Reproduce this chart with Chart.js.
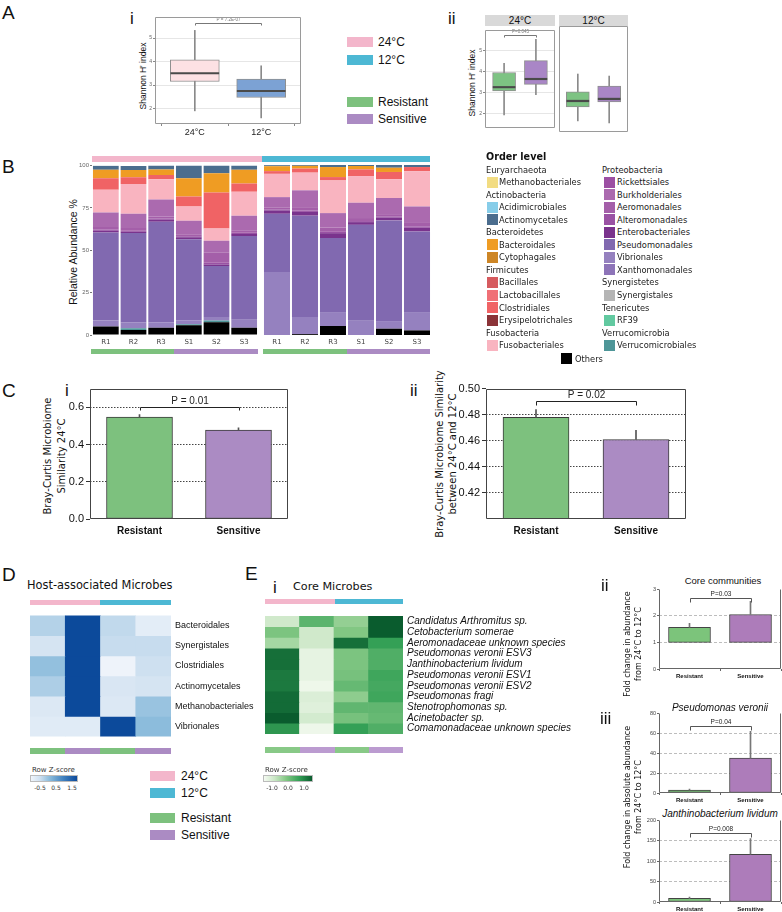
<!DOCTYPE html>
<html><head><meta charset="utf-8">
<script src="https://cdn.jsdelivr.net/npm/chart.js@4.4.1/dist/chart.umd.min.js"></script>
<style>
body{margin:0;background:#fff;}
#root{position:relative;width:782px;height:912px;overflow:hidden;font-family:"Liberation Sans",Arial,sans-serif;color:#111;background:#fff;}
.t{position:absolute;white-space:nowrap;line-height:1;transform:translateY(-50%);}
.c{position:absolute;white-space:nowrap;line-height:1;transform:translate(-50%,-50%);text-align:center;}
.r{position:absolute;white-space:nowrap;transform:translate(-50%,-50%) rotate(-90deg);text-align:center;}
.sw{position:absolute;}
canvas{position:absolute;}
</style></head><body><div id="root"></div>
<script>
// ---------------- DATA ----------------
// A(i) Shannon index by temperature (boxplot stats)
const tempLabels = ['24°C', '12°C'];
const shannonTempMin = [1.90, 1.60];
const shannonTempQ1  = [3.15, 2.47];
const shannonTempMed = [3.50, 2.75];
const shannonTempQ3  = [4.07, 3.25];
const shannonTempMax = [5.33, 3.82];
// A(ii) Shannon index by phenotype within temperature
const phenoLabels = ['Resistant', 'Sensitive'];
const shannon24Min = [1.91, 2.88];
const shannon24Q1  = [3.06, 3.37];
const shannon24Med = [3.24, 3.63];
const shannon24Q3  = [3.94, 4.51];
const shannon24Max = [4.38, 5.53];
const shannon12Min = [1.78, 1.69];
const shannon12Q1  = [2.40, 2.62];
const shannon12Med = [2.66, 2.75];
const shannon12Q3  = [3.06, 3.32];
const shannon12Max = [3.85, 3.76];
// B relative abundance (%) — 24°C R1 R2 R3 S1 S2 S3, then 12°C R1 R2 R3 S1 S2 S3
const sampleLabels = ['R1', 'R2', 'R3', 'S1', 'S2', 'S3'];
const others             = [5.0, 3.0, 4.3, 5.7, 7.6, 4.3, 0.0, 0.5, 5.3, 0.0, 3.7, 2.7];
const verrucomicrobiales = [0.0, 1.0, 0.0, 0.6, 1.0, 0.0, 0, 0, 0, 0, 0, 0];
const rf39               = [0, 0, 0, 0, 0, 0, 0, 0, 0, 0, 0, 0];
const synergistales      = [0, 0, 0, 0, 0, 0, 0, 0, 0, 0, 0, 0];
const xanthomonadales    = [0, 0, 0, 0, 0, 0, 0, 0, 0, 0, 0, 0];
const vibrionales        = [3.5, 3.5, 3.3, 2.4, 2.0, 4.7, 37.0, 10.1, 8.2, 8.4, 4.5, 10.8];
const pseudomonadales    = [52.0, 52.7, 59.2, 47.8, 30.2, 49.4, 34.3, 59.6, 43.5, 56.4, 59.2, 47.4];
const enterobacteriales  = [1.0, 0.8, 1.2, 1.2, 0.8, 1.2, 2.0, 2.2, 2.9, 1.6, 1.6, 2.2];
const alteromonadales    = [0.8, 0.6, 0.8, 0.6, 1.0, 0.8, 0.6, 0.8, 0.8, 0.6, 0.6, 0.8];
const aeromonadales      = [1.5, 1.5, 1.2, 1.2, 6.0, 1.5, 1.2, 2.0, 2.5, 1.8, 1.5, 2.5];
const burkholderiales    = [8.5, 8.5, 10.0, 8.0, 7.1, 8.5, 6.0, 9.9, 8.5, 9.0, 9.5, 9.2];
const rickettsiales      = [0, 0, 0, 0, 0, 0, 0, 0, 0, 0, 0, 0];
const fusobacteriales    = [13.5, 17.6, 12.0, 8.4, 7.2, 14.1, 13.7, 10.4, 19.2, 15.7, 11.0, 20.8];
const erysipelotrichales = [0, 0, 0, 0, 0, 0, 0, 0, 0, 0, 0, 0];
const clostridiales      = [6.7, 3.9, 2.4, 5.9, 21.2, 4.9, 1.6, 2.4, 2.0, 3.9, 4.3, 2.4];
const lactobacillales    = [0, 0, 0, 0, 0, 0, 0, 0, 0, 0, 0, 0];
const bacillales         = [0, 0, 0, 0, 0, 0, 0, 0, 0, 0, 0, 0];
const cytophagales       = [0, 0, 0, 0, 0, 0, 0, 0, 0, 0, 0, 0];
const bacteroidales      = [5.0, 4.3, 3.3, 10.8, 11.4, 8.2, 2.9, 1.6, 5.9, 2.0, 2.5, 0.0];
const actinomycetales    = [2.4, 2.4, 2.4, 7.4, 4.5, 2.4, 0.6, 0.6, 1.2, 0.6, 1.6, 1.2];
const acidimicrobiales   = [0, 0, 0, 0, 0, 0, 0, 0, 0, 0, 0, 0];
const methanobacteriales = [0, 0, 0, 0, 0, 0, 0, 0, 0, 0, 0, 0];
// C Bray-Curtis similarity
const bcWithin24    = [0.547, 0.478];
const bcWithin24Err = [0.013, 0.012];
const bcBetween     = [0.478, 0.461];
const bcBetweenErr  = [0.006, 0.007];
// D host-associated microbes (row z-scores; columns 24R, 24S, 12R, 12S)
const hostRows = ['Bacteroidales', 'Synergistales', 'Clostridiales', 'Actinomycetales', 'Methanobacteriales', 'Vibrionales'];
const hostZ = [
  [-0.30, 1.50, -0.40, -0.80],
  [-0.60, 1.50, -0.45, -0.45],
  [-0.05, 1.50, -0.95, -0.50],
  [-0.25, 1.50, -0.65, -0.60],
  [-0.70, 1.50, -0.70, -0.10],
  [-0.75, -0.75, 1.50, 0.00]
];
// E(i) core microbes (row z-scores)
const coreRows = ['Candidatus Arthromitus sp.', 'Cetobacterium somerae', 'Aeromonadaceae unknown species',
  'Pseudomonas veronii ESV3', 'Janthinobacterium lividum', 'Pseudomonas veronii ESV1', 'Pseudomonas veronii ESV2',
  'Pseudomonas fragi', 'Stenotrophomonas sp.', 'Acinetobacter sp.', 'Comamonadaceae unknown species'];
const coreZ = [
  [-0.70, 0.35, -0.15, 1.40],
  [0.05, -0.70, 0.00, 1.40],
  [-0.30, -0.70, 1.20, 0.70],
  [1.20, -1.00, 0.05, 0.45],
  [1.20, -1.00, 0.05, 0.45],
  [1.10, -1.00, 0.10, 0.60],
  [1.10, -1.10, 0.25, 0.55],
  [1.25, -0.85, -0.10, 0.60],
  [1.25, -0.90, 0.30, 0.30],
  [1.40, -0.75, 0.10, 0.25],
  [0.80, -1.10, 0.70, 0.45]
];
// E(ii, iii) fold changes from 24°C to 12°C
const foldCore       = [1.57, 2.05];
const foldCoreErr    = [0.15, 0.50];
const foldPsVeronii    = [3, 35];
const foldPsVeroniiErr = [1, 27];
const foldJanth      = [9, 117];
const foldJanthErr   = [3, 38];

// ---------------- STYLE / HELPERS ----------------
const SANS = '"Liberation Sans", Arial, Helvetica, sans-serif';
const DV = '"DejaVu Sans", Verdana, sans-serif';
const GREEN = '#7dc17e', PURPLE = '#ab8bc3', PINK = '#f3b6cb', BLUE = '#4db8d4';
const root = document.getElementById('root');
Chart.defaults.font.family = SANS;

function txt(s, x, y, css, cls) {
  const d = document.createElement('div');
  d.className = cls || 't'; d.textContent = s;
  d.style.left = x + 'px'; d.style.top = y + 'px';
  if (css) d.style.cssText += css;
  root.appendChild(d); return d;
}
function ctext(s, x, y, css) { return txt(s, x, y, css, 'c'); }
function vtext(lines, x, y, css) {
  const d = document.createElement('div');
  d.className = 'r'; d.innerHTML = lines.join('<br>');
  d.style.left = x + 'px'; d.style.top = y + 'px';
  if (css) d.style.cssText += css;
  root.appendChild(d); return d;
}
function rect(x, y, w, h, color, css) {
  const d = document.createElement('div');
  d.className = 'sw';
  d.style.cssText += `left:${x}px;top:${y}px;width:${w}px;height:${h}px;background:${color};` + (css || '');
  root.appendChild(d); return d;
}
function thick(n) { return {barThickness: n, maxBarThickness: n, grouped: false}; }

const framePlugin = {
  id: 'frame',
  afterDraw(chart, args, opts) {
    if (!opts || !opts.color) return;
    const a = chart.chartArea, ctx = chart.ctx, s = opts.sides || 'lrtb';
    const l = Math.round(a.left) + 0.5, r = Math.round(a.right) - 0.5, t = Math.round(a.top) + 0.5, b = Math.round(a.bottom) - 0.5;
    ctx.save(); ctx.strokeStyle = opts.color; ctx.lineWidth = 1; ctx.beginPath();
    if (s.includes('l')) { ctx.moveTo(l, t); ctx.lineTo(l, b); }
    if (s.includes('r')) { ctx.moveTo(r, t); ctx.lineTo(r, b); }
    if (s.includes('t')) { ctx.moveTo(l, t); ctx.lineTo(r, t); }
    if (s.includes('b')) { ctx.moveTo(l, b); ctx.lineTo(r, b); }
    ctx.stroke(); ctx.restore();
  }
};
const bracketPlugin = {
  id: 'bracket',
  afterDatasetsDraw(chart, args, opts) {
    if (!opts || opts.y === undefined) return;
    const ctx = chart.ctx, xs = chart.scales.x, ys = chart.scales.y;
    const x1 = Math.round(xs.getPixelForValue(opts.x1)) + 0.5, x2 = Math.round(xs.getPixelForValue(opts.x2)) + 0.5;
    const y = Math.round(ys.getPixelForValue(opts.y)) + 0.5;
    const d = opts.drop || 3;
    ctx.save(); ctx.strokeStyle = opts.color || '#333'; ctx.lineWidth = opts.width || 1;
    ctx.beginPath(); ctx.moveTo(x1, y + d); ctx.lineTo(x1, y); ctx.lineTo(x2, y); ctx.lineTo(x2, y + d); ctx.stroke();
    ctx.fillStyle = opts.textColor || opts.color || '#333'; ctx.font = opts.font;
    ctx.textAlign = 'center'; ctx.textBaseline = 'bottom';
    ctx.fillText(opts.label, (x1 + x2) / 2, y - (opts.gap || 1));
    ctx.restore();
  }
};
Chart.register(framePlugin, bracketPlugin);

function chartAt(area, o, cfg) {
  const yw = o.yw || 0, xh = o.xh || 0, pt = o.pt || 0, pr = o.pr || 0;
  let left, width;
  if (o.yRight) { left = area.L; width = (area.R - area.L) + yw; }
  else { left = area.L - yw; width = (area.R - area.L) + yw + pr; }
  const top = area.T - pt, height = (area.B - area.T) + pt + xh;
  const c = document.createElement('canvas');
  c.width = width; c.height = height;
  c.style.left = left + 'px'; c.style.top = top + 'px';
  c.style.width = width + 'px'; c.style.height = height + 'px';
  root.appendChild(c);
  const op = cfg.options = cfg.options || {};
  Object.assign(op, {responsive: false, animation: false, devicePixelRatio: 1, events: []});
  op.layout = {padding: {top: pt, right: o.yRight ? 0 : pr, left: 0, bottom: 0}};
  op.plugins = Object.assign({legend: {display: false}, tooltip: {enabled: false}}, op.plugins || {});
  const sc = op.scales;
  if (sc.y && sc.y.display !== false) sc.y.afterFit = s => { s.width = yw; };
  if (sc.x && sc.x.display !== false) sc.x.afterFit = s => { s.height = xh; };
  return new Chart(c, cfg);
}
function setTicks(vals) { return s => { s.ticks = vals.map(v => ({value: v})); }; }

// Chart.js paints dataset 0 last (on top): median first, box, whisker underneath
function boxDatasets(labels, mn, q1, md, q3, mx, fills, w, medH) {
  return [
    Object.assign({data: labels.map((_, i) => ({x: i + 1, y: [md[i] - medH, md[i] + medH]})), backgroundColor: '#4a4a4a'}, thick(w - 1)),
    Object.assign({data: labels.map((_, i) => ({x: i + 1, y: [q1[i], q3[i]]})), backgroundColor: fills,
      borderColor: '#8f8f8f', borderWidth: 1, borderSkipped: false}, thick(w)),
    Object.assign({data: labels.map((_, i) => ({x: i + 1, y: [mn[i], mx[i]]})), backgroundColor: '#8a8a8a'}, thick(1))
  ];
}

// ---------------- PANEL A ----------------
txt('A', 2, 12, 'font-size:19px;');
txt('i', 130, 18, 'font-size:17px;');
txt('ii', 448, 18, 'font-size:17px;');
vtext(["Shannon H' index"], 143, 76, 'font-size:8.5px;');
chartAt({L: 155, T: 13, R: 301, B: 124}, {yw: 12, xh: 14, pr: 1}, {
  type: 'bar',
  data: {datasets: boxDatasets(tempLabels, shannonTempMin, shannonTempQ1, shannonTempMed, shannonTempQ3, shannonTempMax, ['#fde1e4', '#7ca2d4'], 49, 0.03)},
  options: {
    scales: {
      x: {type: 'linear', min: 0.4, max: 2.6, offset: false, afterBuildTicks: setTicks([1, 2]),
        ticks: {callback: (v, i) => tempLabels[i], font: {size: 9}, color: '#222', padding: 1},
        grid: {drawOnChartArea: false, tickLength: 2, tickColor: '#888'}, border: {display: false}},
      y: {min: 1.34, max: 5.9, afterBuildTicks: setTicks([2, 3, 4, 5]),
        ticks: {font: {size: 5}, color: '#666', padding: 1},
        grid: {color: '#e6e6e6', tickLength: 2, tickColor: '#888'}, border: {display: false}}
    },
    plugins: {frame: {color: '#9a9a9a'}, bracket: {x1: 1, x2: 2, y: 5.66, drop: 2, label: 'P = 7.2E-07', font: '4.5px ' + SANS, color: '#777'}}
  }
});
// legend A
rect(347, 37, 26, 10, PINK); txt('24°C', 378, 42, 'font-size:12px;');
rect(347, 55, 26, 10, BLUE); txt('12°C', 378, 60, 'font-size:12px;');
rect(347, 97, 26, 10, GREEN); txt('Resistant', 378, 102, 'font-size:12px;');
rect(347, 114, 26, 10, PURPLE); txt('Sensitive', 378, 119, 'font-size:12px;');
// A(ii) facets
vtext(["Shannon H' index"], 472, 83, 'font-size:8.5px;');
rect(485, 15, 70, 11, '#d9d9d9'); ctext('24°C', 520, 21, 'font-size:10px;');
rect(559, 15, 69, 11, '#d9d9d9'); ctext('12°C', 593.5, 21, 'font-size:10px;');
function facet(area, mn, q1, md, q3, mx, showY, bracket) {
  return chartAt(area, {yw: showY ? 8 : 0, xh: 0, pr: 0}, {
    type: 'bar',
    data: {datasets: boxDatasets(phenoLabels, mn, q1, md, q3, mx, ['#7dc383', '#a986c6'], 23, 0.035)},
    options: {
      scales: {
        x: {type: 'linear', min: 0.4, max: 2.6, offset: false, display: false},
        y: {display: showY, min: 1.29, max: 5.97, afterBuildTicks: setTicks([2, 3, 4, 5]),
          ticks: {font: {size: 5}, color: '#666', padding: 1},
          grid: {color: '#e6e6e6', tickLength: 2, tickColor: '#888'}, border: {display: false}}
      },
      plugins: {frame: {color: '#9a9a9a'}, bracket: bracket || {}}
    }
  });
}
facet({L: 485, T: 26, R: 555, B: 132}, shannon24Min, shannon24Q1, shannon24Med, shannon24Q3, shannon24Max, true,
  {x1: 1, x2: 2, y: 5.71, drop: 2, label: 'P=0.045', font: '4.5px ' + SANS, color: '#777'});
facet({L: 559, T: 26, R: 628, B: 132}, shannon12Min, shannon12Q1, shannon12Med, shannon12Q3, shannon12Max, false, null);

// ---------------- PANEL B ----------------
txt('B', 2, 166, 'font-size:19px;');
const orderColors = {
  Methanobacteriales: '#f2dc82', Acidimicrobiales: '#87cde9', Actinomycetales: '#4b6d8e',
  Bacteroidales: '#ef9c23', Cytophagales: '#cd8626', Bacillales: '#d65b5f', Lactobacillales: '#f07076',
  Clostridiales: '#f06365', Erysipelotrichales: '#8b3338', Fusobacteriales: '#f9b4c0',
  Rickettsiales: '#9c4fa3', Burkholderiales: '#ab6aaf', Aeromonadales: '#a45fa9', Alteromonadales: '#9a52a4',
  Enterobacteriales: '#7a338d', Pseudomonadales: '#8169b0', Vibrionales: '#9581bf', Xanthomonadales: '#8d74b8',
  Synergistales: '#b5b5b5', RF39: '#62c9a0', Verrucomicrobiales: '#4e9698', Others: '#000000'
};
const orderStack = [ // bottom -> top
  ['Others', others], ['Verrucomicrobiales', verrucomicrobiales], ['RF39', rf39], ['Synergistales', synergistales],
  ['Xanthomonadales', xanthomonadales], ['Vibrionales', vibrionales], ['Pseudomonadales', pseudomonadales],
  ['Enterobacteriales', enterobacteriales], ['Alteromonadales', alteromonadales], ['Aeromonadales', aeromonadales],
  ['Burkholderiales', burkholderiales], ['Rickettsiales', rickettsiales], ['Fusobacteriales', fusobacteriales],
  ['Erysipelotrichales', erysipelotrichales], ['Clostridiales', clostridiales], ['Lactobacillales', lactobacillales],
  ['Bacillales', bacillales], ['Cytophagales', cytophagales], ['Bacteroidales', bacteroidales],
  ['Actinomycetales', actinomycetales], ['Acidimicrobiales', acidimicrobiales], ['Methanobacteriales', methanobacteriales]
];
vtext(['Relative Abundance %'], 73, 252, 'font-size:10.5px;');
function stackChart(area, start, showY) {
  return chartAt(area, {yw: showY ? 40 : 0, xh: 14, pt: 4}, {
    type: 'bar',
    data: {labels: sampleLabels, datasets: orderStack.map(([name, arr]) => ({
      label: name, data: arr.slice(start, start + 6), backgroundColor: orderColors[name],
      barPercentage: 0.93, categoryPercentage: 1, borderWidth: 0}))},
    options: {
      scales: {
        x: {stacked: true, ticks: {font: {size: 7, family: DV}, color: '#444', padding: 3, maxRotation: 0},
          grid: {display: false, drawTicks: false}, border: {display: false}},
        y: {stacked: true, display: showY, min: 0, max: 100, afterBuildTicks: setTicks([0, 25, 50, 75, 100]),
          ticks: {font: {size: 6}, color: '#666', padding: 1},
          grid: {drawOnChartArea: false, tickLength: 2, tickColor: '#777'}, border: {display: false}}
      }
    }
  });
}
stackChart({L: 92, T: 164.7, R: 258, B: 334.8}, 0, true);
stackChart({L: 263, T: 164.7, R: 431, B: 334.8}, 6, false);
rect(92, 156, 170, 6, PINK); rect(262, 156, 168, 6, BLUE);
rect(91, 349, 83, 5, GREEN); rect(174, 349, 84, 5, PURPLE);
rect(263, 349, 84, 5, GREEN); rect(347, 349, 83, 5, PURPLE);
// legend B
txt('Order level', 486, 157, `font-size:9.6px;font-weight:bold;font-family:${DV};`);
const legendCol1 = [['h', 'Euryarchaeota'], ['i', 'Methanobacteriales'], ['h', 'Actinobacteria'], ['i', 'Acidimicrobiales'],
  ['i', 'Actinomycetales'], ['h', 'Bacteroidetes'], ['i', 'Bacteroidales'], ['i', 'Cytophagales'], ['h', 'Firmicutes'],
  ['i', 'Bacillales'], ['i', 'Lactobacillales'], ['i', 'Clostridiales'], ['i', 'Erysipelotrichales'], ['h', 'Fusobacteria'], ['i', 'Fusobacteriales']];
const legendCol2 = [['h', 'Proteobacteria'], ['i', 'Rickettsiales'], ['i', 'Burkholderiales'], ['i', 'Aeromonadales'],
  ['i', 'Alteromonadales'], ['i', 'Enterobacteriales'], ['i', 'Pseudomonadales'], ['i', 'Vibrionales'], ['i', 'Xanthomonadales'],
  ['h', 'Synergistetes'], ['i', 'Synergistales'], ['h', 'Tenericutes'], ['i', 'RF39'], ['h', 'Verrucomicrobia'], ['i', 'Verrucomicrobiales']];
function legendCol(list, hx, sx, tx) {
  list.forEach(([k, name], j) => {
    const y = 169.5 + j * 12.55;
    const css = `font-size:8.3px;font-family:${DV};color:#222;`;
    if (k === 'h') txt(name, hx, y, css);
    else { rect(sx, y - 5.5, 11, 11, orderColors[name]); txt(name, tx, y, css); }
  });
}
legendCol(legendCol1, 486, 487, 499);
legendCol(legendCol2, 602, 604, 617);
rect(561, 353, 11, 11, '#000'); txt('Others', 575, 358.5, `font-size:8.3px;font-family:${DV};color:#222;`);

// ---------------- PANEL C ----------------
txt('C', 2, 390, 'font-size:19px;');
txt('i', 65, 390, 'font-size:17px;');
txt('ii', 410, 390, 'font-size:17px;');
vtext(['Bray-Curtis Microbiome', 'Similarity 24°C'], 55, 456, `font-size:10px;line-height:14px;font-family:${DV};`);
vtext(['Bray-Curtis Microbiome Similarity', 'between 24°C and 12°C'], 445.5, 454, `font-size:10px;line-height:13px;font-family:${DV};`);
function simChart(area, yw, vals, errs, yMin, yMax, ticks, fmt, br) {
  return chartAt(area, {yw: yw, xh: 20, pt: 8, pr: 1}, {
    type: 'bar',
    data: {labels: phenoLabels, datasets: [
      Object.assign({data: vals.map((v, i) => [v, v + errs[i]]), backgroundColor: '#555'}, thick(1)),
      Object.assign({data: vals.map(v => [yMin, v]), backgroundColor: [GREEN, PURPLE], borderColor: '#3a3a3a',
        borderWidth: 1, borderSkipped: false}, thick(66))
    ]},
    options: {
      scales: {
        x: {ticks: {font: {size: 10, weight: 'bold'}, color: '#111', padding: 6},
          grid: {display: false, drawTicks: false}, border: {display: false}},
        y: {min: yMin, max: yMax, afterBuildTicks: setTicks(ticks),
          ticks: {callback: fmt, font: {size: 11}, color: '#111', padding: 2},
          grid: {color: c => (c.tick && (c.tick.value <= yMin + 1e-9 || c.tick.value >= yMax - 1e-9)) ? 'rgba(0,0,0,0)' : '#444',
            tickColor: '#333', tickLength: 4}, border: {display: false, dash: [1.5, 1.5]}}
      },
      plugins: {frame: {color: '#444'}, bracket: br}
    }
  });
}
simChart({L: 90, T: 388, R: 288, B: 519}, 34, bcWithin24, bcWithin24Err, 0, 0.7, [0, 0.2, 0.4, 0.6], v => v.toFixed(1),
  {x1: 0, x2: 1, y: 0.6, drop: 3, label: 'P = 0.01', font: '10px ' + SANS, color: '#222', gap: 1});
simChart({L: 486, T: 388, R: 686, B: 519}, 40, bcBetween, bcBetweenErr, 0.4, 0.5, [0.42, 0.44, 0.46, 0.48, 0.5], v => v.toFixed(2),
  {x1: 0, x2: 1, y: 0.4908, drop: 4, label: 'P = 0.02', font: '10px ' + SANS, color: '#222', gap: 1});

// ---------------- PANEL D ----------------
txt('D', 2, 574, 'font-size:19px;');
txt('Host-associated Microbes', 27, 586, `font-size:11.4px;font-family:${DV};`);
function hexc(c) { return '#' + c.map(v => Math.round(v).toString(16).padStart(2, '0')).join(''); }
function ramp(stops) {
  return z => {
    if (z <= stops[0][0]) return hexc(stops[0][1]);
    for (let i = 1; i < stops.length; i++) {
      if (z <= stops[i][0]) {
        const [a, ca] = stops[i - 1], [b, cb] = stops[i], t = (z - a) / (b - a);
        return hexc(ca.map((v, k) => v + (cb[k] - v) * t));
      }
    }
    return hexc(stops[stops.length - 1][1]);
  };
}
const blueStops = [[-1.0, [241, 245, 251]], [-0.5, [206, 224, 240]], [0, [140, 188, 220]], [0.75, [66, 130, 192]], [1.5, [12, 74, 155]]];
const greenStops = [[-1.2, [245, 250, 242]], [-0.6, [200, 230, 195]], [0, [130, 199, 131]], [0.7, [52, 160, 86]], [1.4, [10, 92, 46]]];
const blueRamp = ramp(blueStops), greenRamp = ramp(greenStops);
function heatCfg(rows, z, colorFn, font) {
  return {
    type: 'bar',
    data: {labels: ['24R', '24S', '12R', '12S'], datasets: rows.map((r, i) => ({
      label: r, data: [1, 1, 1, 1], backgroundColor: z[i].map(colorFn),
      barPercentage: 1, categoryPercentage: 1, borderWidth: 0}))},
    options: {
      scales: {
        x: {stacked: true, display: false},
        y: {stacked: true, reverse: true, position: 'right', min: 0, max: rows.length,
          afterBuildTicks: s => { s.ticks = rows.map((r, i) => ({value: i + 0.5})); },
          ticks: {callback: (v, i) => rows[i], font: font, color: '#111', padding: 4, autoSkip: false},
          grid: {display: false, drawTicks: false}, border: {display: false}}
      }
    }
  };
}
chartAt({L: 30, T: 606, R: 171, B: 746}, {yw: 110, yRight: true}, heatCfg(hostRows, hostZ, blueRamp, {size: 9, family: SANS}));
rect(30, 600, 70, 5, PINK); rect(100, 600, 71, 5, BLUE);
rect(30, 748, 35, 6, GREEN); rect(65, 748, 35, 6, PURPLE); rect(100, 748, 35, 6, GREEN); rect(135, 748, 36, 6, PURPLE);
function gradCss(stops, lo, hi) {
  return 'linear-gradient(to right,' + stops.map(([v, c]) => `${hexc(c)} ${((v - lo) / (hi - lo) * 100).toFixed(1)}%`).join(',') + ')';
}
txt('Row Z-score', 32, 770, `font-size:7px;font-family:${DV};color:#333;`);
rect(30, 775, 48, 7, gradCss(blueStops, -1.0, 1.5), 'border:0.5px solid #bbb;box-sizing:border-box;');
ctext('-0.5', 40, 788, `font-size:6px;font-family:${DV};color:#333;`);
ctext('0.5', 56, 788, `font-size:6px;font-family:${DV};color:#333;`);
ctext('1.5', 72, 788, `font-size:6px;font-family:${DV};color:#333;`);
rect(150, 771, 25, 10, PINK); txt('24°C', 181, 776, 'font-size:12px;');
rect(150, 788, 25, 10, BLUE); txt('12°C', 181, 793, 'font-size:12px;');
rect(150, 813, 25, 10, GREEN); txt('Resistant', 181, 818, 'font-size:12px;');
rect(150, 830, 25, 10, PURPLE); txt('Sensitive', 181, 835, 'font-size:12px;');

// ---------------- PANEL E ----------------
txt('E', 245, 573, 'font-size:19px;');
txt('i', 273, 587, 'font-size:17px;');
txt('Core Microbes', 293, 587, `font-size:11.2px;font-family:${DV};`);
chartAt({L: 265, T: 606, R: 403, B: 744}, {yw: 200, yRight: true}, heatCfg(coreRows, coreZ, greenRamp, {size: 10, style: 'italic', family: SANS}));
rect(265, 599, 70, 5, PINK); rect(335, 599, 68, 5, BLUE);
rect(265, 747, 35, 6, '#88c987'); rect(300, 747, 35, 6, '#bb9bd0'); rect(335, 747, 34, 6, '#88c987'); rect(369, 747, 34, 6, '#bb9bd0');
txt('Row Z-score', 265, 770, `font-size:7px;font-family:${DV};color:#333;`);
rect(263, 775, 50, 7, gradCss(greenStops, -1.2, 1.4), 'border:0.5px solid #bbb;box-sizing:border-box;');
ctext('-1.0', 272, 788, `font-size:6px;font-family:${DV};color:#333;`);
ctext('0.0', 288, 788, `font-size:6px;font-family:${DV};color:#333;`);
ctext('1.0', 304, 788, `font-size:6px;font-family:${DV};color:#333;`);

txt('ii', 601, 585, 'font-size:17px;');
txt('iii', 600, 718, 'font-size:17px;');
ctext('Core communities', 723, 581, 'font-size:9.5px;');
ctext('Pseudomonas veronii', 720, 708, 'font-size:10px;font-style:italic;');
ctext('Janthinobacterium lividum', 720, 814, 'font-size:10px;font-style:italic;');
vtext(['Fold change in abundance', 'from 24°C to 12°C'], 632.5, 644, `font-size:8px;line-height:11px;font-family:${DV};`);
vtext(['Fold change in absolute abundance', 'from 24°C to 12°C'], 632.5, 797, `font-size:8px;line-height:11px;font-family:${DV};`);
function foldChart(area, vals, errs, base, yMax, ticks, br) {
  return chartAt(area, {yw: 14, xh: 11, pt: 4, pr: 1}, {
    type: 'bar',
    data: {labels: phenoLabels, datasets: [
      Object.assign({data: vals.map((v, i) => [v, v + errs[i]]), backgroundColor: '#777'}, thick(1)),
      Object.assign({data: vals.map(v => [base, v]), backgroundColor: ['#7cc47b', '#ad7cba'], borderColor: '#444',
        borderWidth: 1, borderSkipped: false}, thick(42))
    ]},
    options: {
      scales: {
        x: {ticks: {font: {size: 6, weight: 'bold'}, color: '#111', padding: 2},
          grid: {drawOnChartArea: false, tickLength: 2, tickColor: '#666'}, border: {display: false}},
        y: {min: 0, max: yMax, afterBuildTicks: setTicks(ticks),
          ticks: {font: {size: 5.5}, color: '#444', padding: 1},
          grid: {color: c => (c.tick && (c.tick.value === 0 || c.tick.value === yMax)) ? 'rgba(0,0,0,0)' : '#bdbdbd',
            tickColor: '#666', tickLength: 2}, border: {display: false, dash: [3, 2]}}
      },
      plugins: {frame: {color: '#666', sides: 'lrb'}, bracket: br}
    }
  });
}
foldChart({L: 659, T: 589, R: 781, B: 669}, foldCore, foldCoreErr, 1, 3, [0, 1, 2, 3],
  {x1: 0, x2: 1, y: 2.66, drop: 4, label: 'P=0.03', font: '6.5px ' + SANS, color: '#555', textColor: '#222'});
foldChart({L: 659, T: 713, R: 781, B: 793}, foldPsVeronii, foldPsVeroniiErr, 0, 80, [0, 20, 40, 60, 80],
  {x1: 0, x2: 1, y: 67, drop: 4, label: 'P=0.04', font: '6.5px ' + SANS, color: '#555', textColor: '#222'});
foldChart({L: 659, T: 820, R: 781, B: 902}, foldJanth, foldJanthErr, 0, 200, [0, 50, 100, 150, 200],
  {x1: 0, x2: 1, y: 168, drop: 4, label: 'P=0.008', font: '6.5px ' + SANS, color: '#555', textColor: '#222'});
</script></body></html>
